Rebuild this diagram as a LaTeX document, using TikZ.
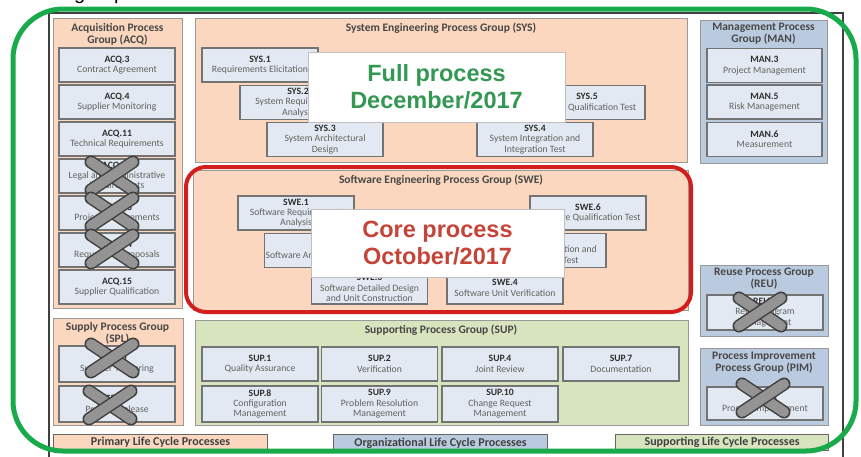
\documentclass[tikz,border=0pt]{standalone}
\usepackage{fontspec}
\setmainfont{Carlito}
\newfontfamily\arialfont{Liberation Sans}
\usepackage{xcolor}
\usepackage{tikz}
\definecolor{peach}{RGB}{250,215,190}
\definecolor{itemblue}{RGB}{227,233,242}
\definecolor{groupblue}{RGB}{187,203,223}
\definecolor{sage}{RGB}{216,228,190}
\definecolor{fullgreen}{RGB}{50,152,82}
\definecolor{ringgreen}{RGB}{25,170,75}
\definecolor{corered}{RGB}{196,68,56}
\definecolor{ringred}{RGB}{212,30,30}

\newcommand\proc[2]{{\bfseries\color{black!82}#1}\\#2}
\newcommand\crossout[2]{%
  \begin{scope}[shift={(#1,#2)}]
    \draw[xbar outline] (-21,-14) -- (21,14);
    \draw[xbar fill] (-21,-14) -- (21,14);
    \draw[xbar outline] (-21,14) -- (21,-14);
    \draw[xbar fill] (-21,14) -- (21,-14);
  \end{scope}}

\begin{document}
\begin{tikzpicture}[x=1pt,y=-1pt,
    groupbox/.style={draw=black!40,line width=1pt,anchor=north west,inner sep=0pt},
    grouptitle/.style={font=\bfseries\fontsize{11.5}{12}\selectfont,text=black!72,align=center},
    itembox/.style={draw=black!55,line width=1.3pt,fill=itemblue,minimum width=116pt,
      minimum height=34pt,inner sep=1pt,align=center,font=\fontsize{9.7}{10.4}\selectfont,text=black!62},
    legendbox/.style={draw=black!60,line width=1.2pt,anchor=north west,inner sep=0pt,
      font=\bfseries\fontsize{12}{13}\selectfont,text=black!75},
    bigbox/.style={draw=black!25,fill=white,line width=0.8pt,align=center,
      font=\arialfont\bfseries\fontsize{23.5}{27}\selectfont},
    xbar outline/.style={line width=13pt,draw=black!75,line cap=round},
    xbar fill/.style={line width=10pt,draw=black!42,line cap=round}]
    \useasboundingbox (0,0) rectangle (861,456);
    \clip (0,0) rectangle (861,456);
    \fill[white] (0,0) rectangle (861,456);

    % cut-off line above
    \node[anchor=base west,inner sep=0pt,font=\arialfont\fontsize{20}{20}\selectfont] (cuttext) at (74,-0.3) {group};

    % Outer frame
    \draw[black!75,line width=1.5pt] (49,13) rectangle (843,470);

    % Acquisition group
    \node[groupbox,fill=peach,minimum width=129pt,minimum height=290pt] (acq) at (53,18) {};
    \node[grouptitle] (acqtitle) at (117.5,34) {Acquisition Process\\Group (ACQ)};
    \node[itembox] (acq3) at (117,65) {\proc{ACQ.3}{Contract Agreement}};
    \node[itembox] (acq4) at (117,102) {\proc{ACQ.4}{Supplier Monitoring}};
    \node[itembox] (acq11) at (117,139) {\proc{ACQ.11}{Technical Requirements}};
    \node[itembox] (acq12) at (117,176) {\proc{ACQ.12}{Legal and Administrative\\Requirements}};
    \node[itembox] (acq13) at (117,213) {\proc{ACQ.13}{Project Requirements}};
    \node[itembox] (acq14) at (117,250) {\proc{ACQ.14}{Request for Proposals}};
    \node[itembox] (acq15) at (117,287) {\proc{ACQ.15}{Supplier Qualification}};
    \crossout{112}{176}
    \crossout{112}{212}
    \crossout{112}{249}

    % Supply group
    \node[groupbox,fill=peach,minimum width=130pt,minimum height=107pt] (spl) at (53,318) {};
    \node[grouptitle] (spltitle) at (117.5,333) {Supply Process Group\\(SPL)};
    \node[itembox,minimum height=36pt] (spl1) at (117,364) {\proc{SPL.1}{Supplier Tendering}};
    \node[itembox,minimum height=36pt] (spl2) at (117,404) {\proc{SPL.2}{Product Release}};
    \crossout{112}{358}
    \crossout{110}{405}

    % System engineering group
    \node[groupbox,fill=peach,minimum width=492pt,minimum height=144pt] (sys) at (195,18) {};
    \node[grouptitle] (systitle) at (441,28) {System Engineering Process Group (SYS)};
    \node[itembox] (sys1) at (260,65) {\proc{SYS.1}{Requirements Elicitation}};
    \node[itembox] (sys2) at (298,102.5) {\proc{SYS.2}{System Requirements\\Analysis}};
    \node[itembox] (sys3) at (325,139.5) {\proc{SYS.3}{System Architectural\\Design}};
    \node[itembox] (sys4) at (535,139.5) {\proc{SYS.4}{System Integration and\\Integration Test}};
    \node[itembox] (sys5) at (587,102.5) {\proc{SYS.5}{System Qualification Test}};
    \node[bigbox,text=fullgreen,minimum width=257pt,minimum height=70pt] (fullbox) at (436.5,87) {Full process\\December/2017};

    % Software engineering group
    \node[groupbox,fill=peach,minimum width=495pt,minimum height=140pt] (swe) at (193,170) {};
    \node[grouptitle] (swetitle) at (441,180) {Software Engineering Process Group (SWE)};
    \node[itembox] (swe1) at (296,213) {\proc{SWE.1}{Software Requirements\\Analysis}};
    \node[itembox] (swe2) at (324,250.5) {\proc{SWE.2}{Software Architectural Design}};
    \node[itembox,minimum height=32pt] (swe3) at (369.5,288) {\proc{SWE.3}{Software Detailed Design\\and Unit Construction}};
    \node[itembox,minimum height=32pt] (swe4) at (505,288) {\proc{SWE.4}{Software Unit Verification}};
    \node[itembox] (swe5) at (548,250.5) {\proc{SWE.5}{Software Integration and\\Integration Test}};
    \node[itembox] (swe6) at (588,213) {\proc{SWE.6}{Software Qualification Test}};
    \node[bigbox,text=corered,minimum width=253pt,minimum height=68pt] (corebox) at (437.5,243) {Core process\\October/2017};
    \draw[ringred,line width=4pt,rounded corners=20pt] (186,167) rectangle (691,312);

    % Supporting group
    \node[groupbox,fill=sage,minimum width=493pt,minimum height=105pt] (sup) at (195,320) {};
    \node[grouptitle] (suptitle) at (441,330) {Supporting Process Group (SUP)};
    \node[itembox] (sup1) at (260,364) {\proc{SUP.1}{Quality Assurance}};
    \node[itembox] (sup2) at (379.5,364) {\proc{SUP.2}{Verification}};
    \node[itembox] (sup4) at (500,364) {\proc{SUP.4}{Joint Review}};
    \node[itembox] (sup7) at (621,364) {\proc{SUP.7}{Documentation}};
    \node[itembox,minimum height=36pt] (sup8) at (260,404) {\proc{SUP.8}{Configuration\\Management}};
    \node[itembox,minimum height=36pt] (sup9) at (379.5,404) {\proc{SUP.9}{Problem Resolution\\Management}};
    \node[itembox,minimum height=36pt] (sup10) at (500,404) {\proc{SUP.10}{Change Request\\Management}};

    % Management group
    \node[groupbox,fill=groupblue,minimum width=127pt,minimum height=143pt] (man) at (700,20) {};
    \node[grouptitle] (mantitle) at (763.5,34) {Management Process\\Group (MAN)};
    \node[itembox,minimum width=115pt] (man3) at (764.5,65.5) {\proc{MAN.3}{Project Management}};
    \node[itembox,minimum width=115pt] (man5) at (764.5,102) {\proc{MAN.5}{Risk Management}};
    \node[itembox,minimum width=115pt] (man6) at (764.5,139.5) {\proc{MAN.6}{Measurement}};

    % Reuse group
    \node[groupbox,fill=groupblue,minimum width=128pt,minimum height=71pt] (reu) at (700,265) {};
    \node[grouptitle] (reutitle) at (764,278.5) {Reuse Process Group\\(REU)};
    \node[itembox,minimum width=116pt,minimum height=35pt] (reu2) at (765,312.5) {\proc{REU.2}{Reuse Program\\Management}};
    \crossout{760}{312}

    % Process improvement group
    \node[groupbox,fill=groupblue,minimum width=128pt,minimum height=77pt] (pim) at (700,348) {};
    \node[grouptitle] (pimtitle) at (764,363) {Process Improvement\\Process Group (PIM)};
    \node[itembox,minimum width=116pt,minimum height=33pt] (pim3) at (765,403.5) {\proc{PIM.3}{Process Improvement}};
    \crossout{763}{398}

    % Legend
    \node[legendbox,fill=peach,minimum width=214pt,minimum height=16pt] (primary) at (53,434) {Primary Life Cycle Processes};
    \node[legendbox,fill=groupblue,minimum width=214pt,minimum height=17pt] (organizational) at (333,434) {Organizational Life Cycle Processes};
    \node[legendbox,fill=sage,minimum width=213pt,minimum height=16pt] (supporting) at (615,434) {Supporting Life Cycle Processes};

    % Full-scope ring
    \draw[ringgreen,line width=5pt,rounded corners=50pt] (13,9) rectangle (856,451);
\end{tikzpicture}
\end{document}
